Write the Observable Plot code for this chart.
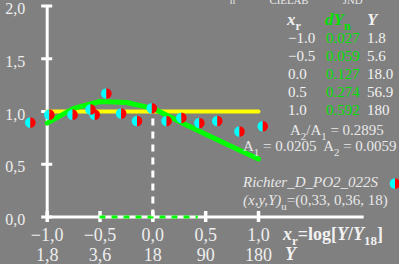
<!DOCTYPE html>
<html><head><meta charset="utf-8">
<script src="https://cdn.jsdelivr.net/npm/d3@7"></script>
<script src="https://cdn.jsdelivr.net/npm/@observablehq/plot@0.6"></script>
<style>html,body{margin:0;padding:0;background:#808080;}</style>
</head><body><div id="chart"></div>
<script>
// ---- data ----
const xTicks = [-1, -0.5, 0, 0.5, 1];
const xTickLabels = ["−1,0", "−0,5", "0,0", "0,5", "1,0"];
const yValueLabels = ["1,8", "3,6", "18", "90", "180"];
const yTicks = [0, 0.5, 1, 1.5, 2];
const yTickLabels = ["0,0", "0,5", "1,0", "1,5", "2,0"];
const pointX = [-1.16, -0.98, -0.76, -0.59, -0.55, -0.44, -0.30, -0.15, -0.01, 0.13, 0.27, 0.44, 0.61, 0.82, 1.04];
const pointY = [0.895, 0.97, 0.97, 1.02, 0.97, 1.17, 0.98, 0.91, 1.03, 0.91, 0.94, 0.89, 0.91, 0.81, 0.86];
const curveX = [-1, -0.75, -0.5, -0.25, 0, 0.25, 0.5, 0.75, 1];
const curveY = [0.89, 1.03, 1.095, 1.085, 1.03, 0.905, 0.785, 0.665, 0.55];
const refX = [-1, 1];
const refY = [1, 1];
const tableXr = ["−1.0", "−0.5", "0.0", "0.5", "1.0"];
const tableDYn = ["0.027", "0.059", "0.127", "0.274", "0.592"];
const tableY = ["1.8", "5.6", "18.0", "56.9", "180"];
const legendPos = [{x: 2.292, y: 0.3175}];

// ---- geometry ----
const X0 = 46.7, X1 = 258, Y0 = 216.5, Y1 = 5.5;
const pxPerX = (X1 - X0) / 2, pxPerY = (Y0 - Y1) / 2;
const tickHalfX = 5.5 / pxPerX, tickHalfY = 5.5 / pxPerY;

const font = "'Liberation Serif', 'Times New Roman', serif";
const labelColor = "#eeeeee";

const leftHalf = {draw(ctx, size) { const r = Math.sqrt(size / Math.PI); ctx.moveTo(0, -r); ctx.arc(0, 0, r, -Math.PI / 2, Math.PI / 2, true); ctx.closePath(); }};
const rightHalf = {draw(ctx, size) { const r = Math.sqrt(size / Math.PI); ctx.moveTo(0, -r); ctx.arc(0, 0, r, -Math.PI / 2, Math.PI / 2, false); ctx.closePath(); }};

const points = pointX.map((x, i) => ({x, y: pointY[i]}));
const curve = curveX.map((x, i) => ({x, y: curveY[i]}));
const ref = refX.map((x, i) => ({x, y: refY[i]}));

const svg = Plot.plot({
  width: 399, height: 264,
  marginTop: 0, marginRight: 0, marginBottom: 0, marginLeft: 0,
  style: {background: "#808080", fontFamily: font, overflow: "visible"},
  x: {domain: [-1, 1], range: [X0, X1], axis: null},
  y: {domain: [0, 2], range: [Y0, Y1], axis: null},
  marks: [
    // axes
    Plot.ruleX([-1], {y1: 0, y2: 2, stroke: "white", strokeWidth: 3}),
    Plot.ruleY([0], {x1: -1, x2: 2.0, stroke: "white", strokeWidth: 3}),
    Plot.ruleY(yTicks, {y: d => d, x1: -1 - tickHalfX, x2: -1 + tickHalfX, stroke: "white", strokeWidth: 3}),
    Plot.ruleX(xTicks, {x: d => d, y1: -tickHalfY, y2: tickHalfY, stroke: "white", strokeWidth: 3.5}),
    // dashed guides
    Plot.ruleY([0], {x1: -0.5, x2: 0.43, stroke: "#00ff00", strokeWidth: 3, strokeDasharray: "6,6"}),
    Plot.ruleX([0], {y1: 0, y2: 1.0, stroke: "white", strokeWidth: 3, strokeDasharray: "7,6"}),
    // tick labels
    Plot.text(xTicks, {x: d => d, y: 0, text: (d, i) => xTickLabels[i], dy: 23.5, lineAnchor: "bottom", fontSize: 18, fill: labelColor}),
    Plot.text(xTicks, {x: d => d, y: 0, text: (d, i) => yValueLabels[i], dy: 43.5, lineAnchor: "bottom", fontSize: 18, fill: labelColor}),
    Plot.text(yTicks, {x: -1, y: d => d, text: (d, i) => yTickLabels[i], dx: -22, dy: 8, textAnchor: "end", lineAnchor: "bottom", fontSize: 16, fill: labelColor}),
    // reference and model lines
    Plot.line(ref, {x: "x", y: "y", stroke: "#ffff00", strokeWidth: 4}),
    Plot.line(curve, {x: "x", y: "y", stroke: "#00ff00", strokeWidth: 5}),
    // data points
    Plot.dot(points, {x: "x", y: "y", r: 5.3, symbol: leftHalf, fill: "#00ffff", stroke: "none"}),
    Plot.dot(points, {x: "x", y: "y", r: 5.3, symbol: rightHalf, fill: "#ff0000", stroke: "none"}),
    Plot.dot(legendPos, {x: "x", y: "y", r: 5.3, symbol: leftHalf, fill: "#00ffff", stroke: "none"}),
    Plot.dot(legendPos, {x: "x", y: "y", r: 5.3, symbol: rightHalf, fill: "#ff0000", stroke: "none"})
  ]
});
document.getElementById("chart").appendChild(svg);

// ---- rich text annotations ----
const root = d3.select(svg);
function rich(x, y, size, segs, base = {}) {
  const t = root.append("text").attr("x", x).attr("y", y)
    .attr("text-anchor", "start")
    .attr("font-family", font).attr("font-size", size).attr("fill", base.fill || "#f2f2f2");
  let shift = 0;
  for (const s of segs) {
    const sp = t.append("tspan").text(s.t);
    const target = s.sub ? size * 0.3 : (s.sup ? -size * 0.35 : 0);
    if (target !== shift) { sp.attr("dy", target - shift); shift = target; }
    if (s.sub || s.sup) sp.attr("font-size", size * 0.72);
    if (s.i) sp.attr("font-style", "italic");
    if (s.b) sp.attr("font-weight", "bold");
    if (s.fill) sp.attr("fill", s.fill);
  }
  return t;
}
const G = "#00e000";
// top (cut off) line
rich(214, -1, 15, [{t: "dY", i: true}, {t: "n", sub: true}, {t: " = dY"}, {t: "CIELAB", sub: true}, {t: " = dY"}, {t: "JND", sub: true}, {t: " · 0.7"}], {fill: "#e8e8e8"});
// table header
rich(287, 25, 17, [{t: "x", i: true, b: true}, {t: "r", sub: true, b: true}]);
rich(325, 25, 17, [{t: "dY", i: true, b: true, fill: G}, {t: "n", sub: true, b: true, fill: G}]);
rich(367, 25, 17, [{t: "Y", i: true, b: true}]);
// table rows
tableXr.forEach((v, i) => {
  const by = 43 + i * 18;
  rich(288, by, 15, [{t: v}]);
  rich(326, by, 15, [{t: tableDYn[i], fill: G}]);
  rich(367, by, 15, [{t: tableY[i]}]);
});
rich(290, 135, 15, [{t: "A"}, {t: "2", sub: true}, {t: "/A"}, {t: "1", sub: true}, {t: " = 0.2895"}], {fill: "#e8e8e8"});
rich(243, 151, 15, [{t: "A"}, {t: "1", sub: true}, {t: " = 0.0205  A"}, {t: "2", sub: true}, {t: " = 0.0059"}], {fill: "#e8e8e8"});
rich(243, 187, 15, [{t: "Richter_D_PO2_022S", i: true}], {fill: "#e8e8e8"});
rich(243, 205, 15, [{t: "(x,y,Y)", i: true}, {t: "u", sub: true}, {t: "=(0,33, 0,36, 18)"}], {fill: "#e8e8e8"});
// axis titles
rich(283, 240, 18, [{t: "x", i: true, b: true}, {t: "r", sub: true, b: true}, {t: "=log[", b: true}, {t: "Y", i: true, b: true}, {t: "/", b: true}, {t: "Y", i: true, b: true}, {t: "18", sub: true, b: true}, {t: "]", b: true}]);
rich(285, 260, 18, [{t: "Y", i: true, b: true}]);
</script>
</body></html>
